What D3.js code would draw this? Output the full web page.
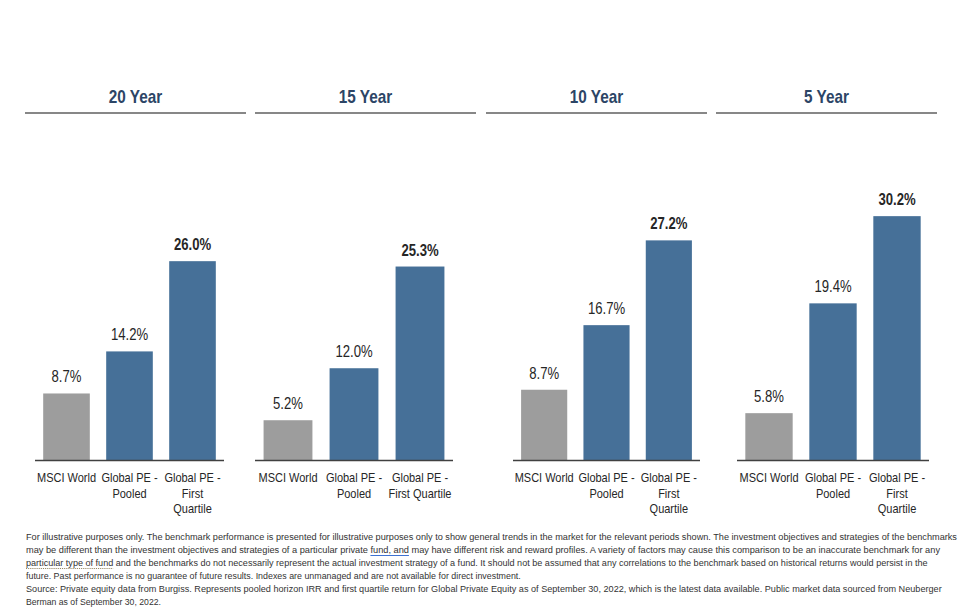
<!DOCTYPE html>
<html>
<head>
<meta charset="utf-8">
<script src="https://cdn.jsdelivr.net/npm/d3@7"></script>
<style>
  body { margin: 0; background: #fff; }
  svg { display: block; font-family: "Liberation Sans", Arial, sans-serif; }
</style>
</head>
<body>
<svg id="chart" width="971" height="615"></svg>
<script>
// Chart data
var periods = ['20 Year', '15 Year', '10 Year', '5 Year'];
var categories = ['MSCI World', 'Global PE - Pooled', 'Global PE - First Quartile'];
var msciWorld = [8.7, 5.2, 8.7, 5.8];
var pePooled = [14.2, 12.0, 16.7, 19.4];
var peFirstQuartile = [26.0, 25.3, 27.2, 30.2];
// how each tick label is broken into lines, per panel
var tickLabels = [
  [['MSCI World'], ['Global PE -', 'Pooled'], ['Global PE -', 'First', 'Quartile']],
  [['MSCI World'], ['Global PE -', 'Pooled'], ['Global PE -', 'First Quartile']],
  [['MSCI World'], ['Global PE -', 'Pooled'], ['Global PE -', 'First', 'Quartile']],
  [['MSCI World'], ['Global PE -', 'Pooled'], ['Global PE -', 'First', 'Quartile']]
];
var axisMax = [34, 34, 32.2, 32.2];

var footnotes = [
  'For illustrative purposes only. The benchmark performance is presented for illustrative purposes only to show general trends in the market for the relevant periods shown. The investment objectives and strategies of the benchmarks',
  'may be different than the investment objectives and strategies of a particular private fund, and may have different risk and reward profiles. A variety of factors may cause this comparison to be an inaccurate benchmark for any',
  'particular type of fund and the benchmarks do not necessarily represent the actual investment strategy of a fund.  It should not be assumed that any correlations to the benchmark based on historical returns would persist in the',
  'future. Past performance is no guarantee of future results. Indexes are unmanaged and are not available for direct investment.',
  'Source: Private equity data from Burgiss. Represents pooled horizon IRR and first quartile return for Global Private Equity as of September 30, 2022, which is the latest data available. Public market data sourced from Neuberger',
  'Berman as of September 30, 2022.'
];

// Layout
var headerX = [25, 255, 486, 716],
    headerW = 221,
    plotX = [35, 255, 513, 737],
    plotW = [189, 198, 187, 192],
    baseY = 460,
    plotTop = 200,
    barColors = ['#9d9d9d', '#467098', '#467098'];

var svg = d3.select('#chart');

// no narrow font installed, so squeeze the regular one sideways
function narrowText(parent, x, y, str, anchor, sx) {
  var g = parent.append('g')
    .attr('transform', 'translate(' + x + ',' + y + ') scale(' + sx + ',1)');
  return g.append('text')
    .attr('x', 0).attr('y', 0)
    .attr('text-anchor', anchor)
    .text(str);
}

periods.forEach(function (period, p) {
  var values = [msciWorld[p], pePooled[p], peFirstQuartile[p]];

  // header title and rule
  narrowText(svg, headerX[p] + headerW / 2, 103, period, 'middle', 0.85)
    .attr('font-size', 18)
    .attr('font-weight', 'bold')
    .attr('fill', '#2c4566');
  svg.append('line')
    .attr('x1', headerX[p]).attr('x2', headerX[p] + headerW)
    .attr('y1', 113).attr('y2', 113)
    .attr('stroke', '#5f5f5f')
    .attr('stroke-width', 1.5);

  var x = d3.scaleBand()
    .domain(categories)
    .range([plotX[p], plotX[p] + plotW[p]])
    .paddingInner(0.26)
    .paddingOuter(0.13);

  var y = d3.scaleLinear()
    .domain([0, axisMax[p]])
    .range([baseY, plotTop]);

  var g = svg.append('g');

  g.selectAll('rect')
    .data(values)
    .enter()
    .append('rect')
    .attr('x', function (d, i) { return x(categories[i]); })
    .attr('width', x.bandwidth())
    .attr('y', function (d) { return y(d); })
    .attr('height', function (d) { return y(0) - y(d); })
    .attr('fill', function (d, i) { return barColors[i]; });

  values.forEach(function (d, i) {
    narrowText(g, x(categories[i]) + x.bandwidth() / 2, y(d) - 11, d.toFixed(1) + '%', 'middle', 0.82)
      .attr('font-size', 16)
      .attr('font-weight', i === 2 ? 'bold' : 'normal')
      .attr('fill', '#262626');
  });

  // baseline
  g.append('line')
    .attr('x1', plotX[p]).attr('x2', plotX[p] + plotW[p])
    .attr('y1', baseY + 0.5).attr('y2', baseY + 0.5)
    .attr('stroke', '#404040')
    .attr('stroke-width', 1.5);

  // category labels
  tickLabels[p].forEach(function (lines, i) {
    lines.forEach(function (line, k) {
      narrowText(g, x(categories[i]) + x.bandwidth() / 2, 482 + k * 15.5, line, 'middle', 0.88)
        .attr('font-size', 12.5)
        .attr('fill', '#262626');
    });
  });
});

// footnote, each line squeezed to the width it has in the source
var noteWidths = [931, 915, 903, 495, 916, 135];
var noteNodes = footnotes.map(function (str, i) {
  var t = narrowText(svg, 26, 540 + i * 13, str, 'start', 1)
    .attr('font-size', 9.6)
    .attr('fill', '#333');
  var natural = t.node().getComputedTextLength();
  d3.select(t.node().parentNode)
    .attr('transform', 'translate(26,' + (540 + i * 13) + ') scale(' + (noteWidths[i] / natural) + ',1)');
  return t.node();
});

// editor marks under "fund, and" and "particular type of fund"
function markUnder(node, phrase, color, dash) {
  var s = node.textContent.indexOf(phrase);
  if (s < 0) return;
  var x0 = node.getStartPositionOfChar(s).x,
      x1 = node.getEndPositionOfChar(s + phrase.length - 1).x;
  d3.select(node.parentNode).append('line')
    .attr('x1', x0).attr('x2', x1)
    .attr('y1', 2.5).attr('y2', 2.5)
    .attr('stroke', color)
    .attr('stroke-width', 1)
    .attr('stroke-dasharray', dash);
}
markUnder(noteNodes[1], 'fund, and', '#3b6fd1', null);
markUnder(noteNodes[2], 'particular type of fund', '#8a7a55', '1,1');
</script>
</body>
</html>
